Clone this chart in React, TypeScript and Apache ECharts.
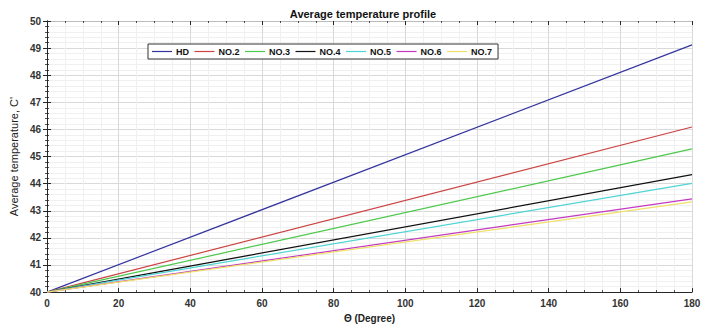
import React, { useEffect, useRef } from "react";
import * as echarts from "echarts";

const xValues = [0, 180];
const seriesNames = ["HD", "NO.2", "NO.3", "NO.4", "NO.5", "NO.6", "NO.7"];
const seriesValues = [
  [40, 49.12],
  [40, 46.09],
  [40, 45.28],
  [40, 44.33],
  [40, 44.01],
  [40, 43.44],
  [40, 43.33],
];
const seriesColors = ["#34349e", "#cc4444", "#4cc84c", "#111111", "#4fd4d4", "#c23ac2", "#efe06a"];

const axisColor = "#262626";
const font = "'Liberation Sans', Arial, sans-serif";

export default function App() {
  const ref = useRef<HTMLDivElement>(null);
  useEffect(() => {
    if (!ref.current) return;
    const chart = echarts.init(ref.current, null, { renderer: "svg" });
    const tickBase = {
      show: true,
      inside: true,
      length: 4,
      lineStyle: { color: axisColor, width: 1 },
    };
    const minorTickBase = {
      show: true,
      length: 2,
      lineStyle: { color: axisColor, width: 0.8 },
    };
    chart.setOption({
      animation: false,
      backgroundColor: "#ffffff",
      title: {
        text: "Average temperature profile",
        left: 358,
        textAlign: "center",
        top: 3,
        textStyle: { fontFamily: font, fontWeight: "bold", fontSize: 11, color: "#111" },
      },
      legend: {
        left: 148,
        top: 44,
        orient: "horizontal",
        icon: "rect",
        itemWidth: 20,
        itemHeight: 1.2,
        itemGap: 5.5,
        padding: [3, 6, 3, 4],
        borderColor: "#333",
        borderWidth: 1,
        backgroundColor: "#fff",
        textStyle: { fontFamily: font, fontWeight: "bold", fontSize: 9, color: "#111", padding: [0, 0, 0, -1] },
        data: seriesNames,
      },
      grid: { left: 43, right: 21, top: 21, bottom: 26.5, containLabel: false },
      xAxis: [
        {
          type: "value",
          min: 0,
          max: 180,
          interval: 20,
          name: "Θ (Degree)",
          nameLocation: "middle",
          nameGap: 16,
          nameTextStyle: { fontFamily: font, fontWeight: "bold", fontSize: 10, color: "#222" },
          axisLine: { show: true, lineStyle: { color: axisColor, width: 1 } },
          axisTick: tickBase,
          minorTick: { ...minorTickBase, splitNumber: 4 },
          axisLabel: { fontFamily: font, fontWeight: "bold", fontSize: 10, color: "#333", margin: 6 },
          splitLine: { show: true, lineStyle: { color: "#d9d9d9", width: 1 } },
          minorSplitLine: { show: true, lineStyle: { color: "#f0f0f0", width: 1 } },
        },
        {
          type: "value",
          position: "top",
          min: 0,
          max: 180,
          interval: 20,
          axisLine: { show: true, lineStyle: { color: "#bbb", width: 1 } },
          axisTick: tickBase,
          minorTick: { ...minorTickBase, splitNumber: 4 },
          axisLabel: { show: false },
          splitLine: { show: false },
        },
      ],
      yAxis: [
        {
          type: "value",
          min: 40,
          max: 50,
          interval: 1,
          name: "Average temperature, C'",
          nameLocation: "middle",
          nameGap: 24,
          nameRotate: 90,
          nameTextStyle: { fontFamily: font, fontSize: 11, color: "#222" },
          axisLine: { show: true, lineStyle: { color: axisColor, width: 1 } },
          axisTick: tickBase,
          minorTick: { ...minorTickBase, splitNumber: 5 },
          axisLabel: { fontFamily: font, fontWeight: "bold", fontSize: 10, color: "#333", margin: 6 },
          splitLine: { show: true, lineStyle: { color: "#d9d9d9", width: 1 } },
          minorSplitLine: { show: true, lineStyle: { color: "#f0f0f0", width: 1 } },
        },
        {
          type: "value",
          position: "right",
          min: 40,
          max: 50,
          interval: 1,
          axisLine: { show: true, lineStyle: { color: axisColor, width: 1 } },
          axisTick: tickBase,
          minorTick: { ...minorTickBase, splitNumber: 5 },
          axisLabel: { show: false },
          splitLine: { show: false },
        },
      ],
      series: seriesNames.map((name, i) => ({
        name,
        type: "line",
        xAxisIndex: 0,
        yAxisIndex: 0,
        showSymbol: false,
        symbol: "none",
        data: xValues.map((x, j) => [x, seriesValues[i][j]]),
        lineStyle: { color: seriesColors[i], width: 1.2 },
        itemStyle: { color: seriesColors[i] },
        z: 3,
      })),
    });
    return () => chart.dispose();
  }, []);
  return <div ref={ref} style={{ width: 713, height: 328, position: "absolute", left: 0, top: 0 }} />;
}
